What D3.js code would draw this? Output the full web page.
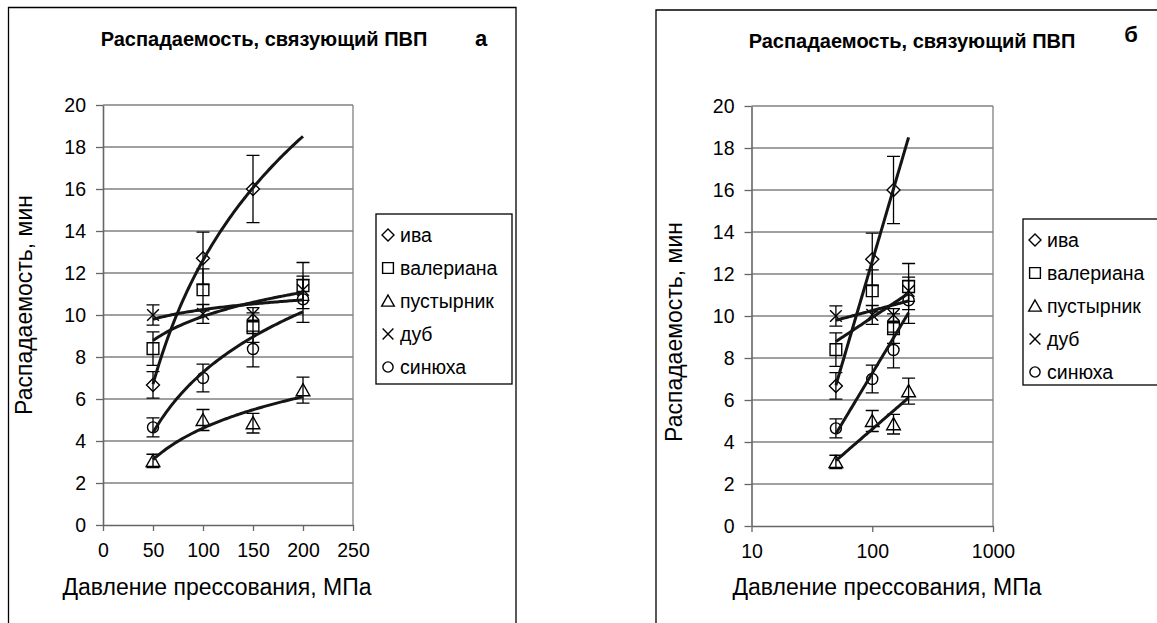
<!DOCTYPE html>
<html><head><meta charset="utf-8">
<script src="https://cdn.jsdelivr.net/npm/d3@7"></script>
<style>
body{margin:0;background:#fff}
svg{display:block}
text{font-family:"Liberation Sans",Arial,sans-serif;fill:#000}
</style>
</head><body>
<svg id="c" width="1157" height="623"></svg>
<script>
// ---- data ----
const pressures = [50, 100, 150, 200];
const seriesNames = ["ива", "валериана", "пустырник", "дуб", "синюха"];
const seriesSymbols = ["diamond", "square", "triangle", "cross", "circle"];
const ivaValues = [6.67, 12.7, 16.0, null];
const ivaErrors = [0.63, 1.25, 1.6, null];
const valerianaValues = [8.4, 11.2, 9.4, 11.4];
const valerianaErrors = [0.8, 1.0, 0.7, 1.1];
const pustyrnikValues = [3.05, 5.0, 4.85, 6.42];
const pustyrnikErrors = [0.32, 0.5, 0.47, 0.62];
const dubValues = [10.0, 10.05, 10.05, 11.2];
const dubErrors = [0.48, 0.45, 0.3, 0.5];
const sinyukhaValues = [4.65, 7.0, 8.38, 10.75];
const sinyukhaErrors = [0.45, 0.66, 0.85, 1.1];
const trendEnd = 200;
const yTicks = [0, 2, 4, 6, 8, 10, 12, 14, 16, 18, 20];
const xTicksLinear = [0, 50, 100, 150, 200, 250];
const xTicksLog = [10, 100, 1000];
const chartTitle = "Распадаемость, связующий ПВП";
const xTitle = "Давление прессования, МПа";
const yTitle = "Распадаемость, мин";
const panelLetters = ["а", "б"];

const seriesValues = [ivaValues, valerianaValues, pustyrnikValues, dubValues, sinyukhaValues];
const seriesErrors = [ivaErrors, valerianaErrors, pustyrnikErrors, dubErrors, sinyukhaErrors];

// ---- helpers ----
const svg = d3.select("#c");
const GRID = "#808080";

function symbolPath(type, s) {
  const h = s / 2;
  switch (type) {
    case "diamond": return `M0,${-h}L${h},0L0,${h}L${-h},0Z`;
    case "square": return `M${-h*0.9},${-h*0.9}H${h*0.9}V${h*0.9}H${-h*0.9}Z`;
    case "triangle": return `M0,${-h}L${h*1.05},${h*0.85}L${-h*1.05},${h*0.85}Z`;
    case "cross": return `M${-h*0.9},${-h*0.9}L${h*0.9},${h*0.9}M${h*0.9},${-h*0.9}L${-h*0.9},${h*0.9}`;
    case "circle": { const r = h*0.85; return `M${r},0A${r},${r} 0 1,1 ${-r},0A${r},${r} 0 1,1 ${r},0Z`; }
  }
}

function fitLog(xs, ys) {
  const pts = xs.map((x, i) => [Math.log(x), ys[i]]).filter(p => p[1] != null);
  const mx = d3.mean(pts, p => p[0]), my = d3.mean(pts, p => p[1]);
  let sxy = 0, sxx = 0;
  pts.forEach(p => { sxy += (p[0]-mx)*(p[1]-my); sxx += (p[0]-mx)*(p[0]-mx); });
  const b = sxy / sxx;
  return { a: my - b*mx, b };
}

function drawPanel(cfg) {
  const g = svg.append("g");
  // frame
  g.append("path")
    .attr("d", `M${cfg.frame.l},640V${cfg.frame.t}H${cfg.frame.r}V640`)
    .attr("fill", "none").attr("stroke", "#000").attr("stroke-width", 1.3);

  const x = cfg.log
    ? d3.scaleLog().domain([10, 1000]).range([cfg.plot.l, cfg.plot.r])
    : d3.scaleLinear().domain([0, 250]).range([cfg.plot.l, cfg.plot.r]);
  const y = d3.scaleLinear().domain([0, 20]).range([cfg.plot.b, cfg.plot.t]);

  // gridlines
  g.append("g").selectAll("line").data(yTicks.filter(d => d > 0)).join("line")
    .attr("x1", cfg.plot.l).attr("x2", cfg.plot.r)
    .attr("y1", d => y(d)).attr("y2", d => y(d))
    .attr("stroke", GRID).attr("stroke-width", 1.3);
  // right border of plot area
  g.append("line").attr("x1", cfg.plot.r).attr("x2", cfg.plot.r)
    .attr("y1", cfg.plot.t).attr("y2", cfg.plot.b)
    .attr("stroke", GRID).attr("stroke-width", 1.3);

  // y axis
  const yAxis = d3.axisLeft(y).tickValues(yTicks).tickSize(7).tickPadding(10).tickSizeOuter(0);
  const ya = g.append("g").attr("transform", `translate(${cfg.plot.l},0)`).call(yAxis);
  ya.select(".domain").attr("stroke", "#666").attr("stroke-width", 1.6);
  ya.selectAll(".tick line").attr("stroke", "#666").attr("stroke-width", 1.3);
  ya.selectAll(".tick text").attr("font-size", 19.5).attr("font-family", "Liberation Sans, Arial, sans-serif").attr("fill", "#000");

  // x axis
  const xAxis = (cfg.log ? d3.axisBottom(x).tickValues(xTicksLog).tickFormat(d3.format("d"))
                         : d3.axisBottom(x).tickValues(xTicksLinear))
    .tickSize(6).tickPadding(12).tickSizeOuter(0);
  const xa = g.append("g").attr("transform", `translate(0,${cfg.plot.b})`).call(xAxis);
  xa.select(".domain").attr("stroke", "#666").attr("stroke-width", 1.6);
  xa.selectAll(".tick line").attr("stroke", "#666").attr("stroke-width", 1.3);
  xa.selectAll(".tick text").attr("font-size", 19.5).attr("font-family", "Liberation Sans, Arial, sans-serif").attr("fill", "#000");

  // markers
  seriesValues.forEach((vals, si) => {
    const pts = pressures.map((p, i) => ({ p, v: vals[i], e: seriesErrors[si][i] })).filter(d => d.v != null);
    g.append("g").selectAll("path").data(pts).join("path")
      .attr("transform", d => `translate(${x(d.p)},${y(d.v)})`)
      .attr("d", symbolPath(seriesSymbols[si], 13))
      .attr("fill", seriesSymbols[si] === "cross" ? "none" : "#fff")
      .attr("stroke", "#000").attr("stroke-width", 1.4);
  });
  // error bars
  seriesValues.forEach((vals, si) => {
    const pts = pressures.map((p, i) => ({ p, v: vals[i], e: seriesErrors[si][i] })).filter(d => d.v != null);
    const eg = g.append("g").attr("stroke", "#000").attr("stroke-width", 1.3).attr("fill", "none");
    eg.selectAll("path").data(pts).join("path")
      .attr("d", d => {
        const cx = x(d.p), y1 = y(d.v + d.e), y2 = y(d.v - d.e);
        return `M${cx},${y1}V${y2}M${cx-6.5},${y1}H${cx+6.5}M${cx-6.5},${y2}H${cx+6.5}`;
      });
  });
  // trendlines (logarithmic fit)
  seriesValues.forEach((vals, si) => {
    const f = fitLog(pressures, vals);
    const x0 = d3.min(pressures.filter((p, i) => vals[i] != null));
    const samples = d3.range(0, 81).map(k => x0 + (trendEnd - x0) * k / 80);
    g.append("path")
      .attr("d", d3.line().x(p => x(p)).y(p => y(f.a + f.b * Math.log(p)))(samples))
      .attr("fill", "none").attr("stroke", "#151515").attr("stroke-width", 3);
  });

  // titles
  g.append("text").attr("x", cfg.titleX).attr("y", cfg.titleY)
    .attr("text-anchor", "middle").attr("font-weight", "bold").attr("font-size", 20)
    .text(chartTitle);
  g.append("text").attr("x", cfg.letterX).attr("y", cfg.letterY)
    .attr("text-anchor", "middle").attr("font-weight", "bold").attr("font-size", 22)
    .text(cfg.letter);
  g.append("text").attr("x", cfg.xTitleX).attr("y", 595)
    .attr("text-anchor", "middle").attr("font-size", 23).attr("fill", "#000")
    .text(xTitle);
  g.append("text").attr("transform", `translate(${cfg.yTitleX},${cfg.yTitleY}) rotate(-90)`)
    .attr("text-anchor", "middle").attr("font-size", 23)
    .text(yTitle);

  // legend
  const lg = g.append("g");
  lg.append("rect").attr("x", cfg.legend.l).attr("y", cfg.legend.t)
    .attr("width", 136).attr("height", cfg.legend.b - cfg.legend.t)
    .attr("fill", "#fff").attr("stroke", "#000").attr("stroke-width", 1.3);
  seriesNames.forEach((name, si) => {
    const cy = cfg.legend.t + 21 + si * 33;
    lg.append("path").attr("transform", `translate(${cfg.legend.l + 12},${cy})`)
      .attr("d", symbolPath(seriesSymbols[si], 12))
      .attr("fill", "none").attr("stroke", "#000").attr("stroke-width", 1.4);
    lg.append("text").attr("x", cfg.legend.l + 24).attr("y", cy + 7)
      .attr("font-size", 19.5).text(name);
  });
}

drawPanel({
  log: false,
  frame: { l: 8.5, t: 7.5, r: 516 },
  plot: { l: 103, r: 353, t: 105, b: 525 },
  titleX: 264, titleY: 46, letter: panelLetters[0], letterX: 481, letterY: 46,
  xTitleX: 217, yTitleX: 32, yTitleY: 305,
  legend: { l: 376, t: 214, b: 384 }
});
drawPanel({
  log: true,
  frame: { l: 656, t: 10, r: 1170 },
  plot: { l: 751.5, r: 993, t: 106, b: 526 },
  titleX: 912, titleY: 48, letter: panelLetters[1], letterX: 1131, letterY: 42,
  xTitleX: 887, yTitleX: 682, yTitleY: 332,
  legend: { l: 1023, t: 219, b: 385 }
});
</script>
</body></html>
